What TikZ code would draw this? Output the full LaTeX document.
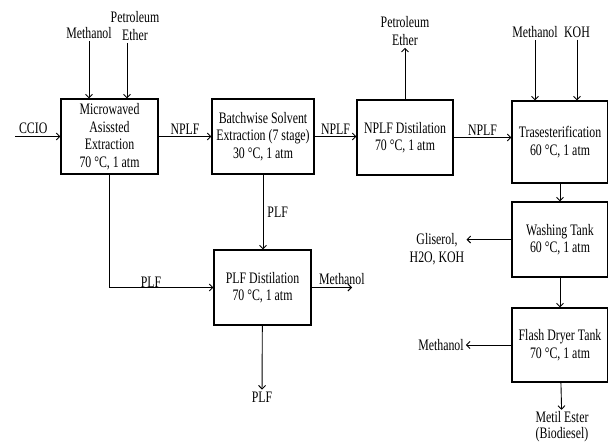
\documentclass[tikz,border=0pt]{standalone}
\usepackage{fontspec}
\setmainfont{Liberation Serif}[FakeStretch=0.74]
\usetikzlibrary{arrows.meta,positioning}
\tikzset{>={Straight Barb[length=3.5pt,width=7pt]},
  box/.style={draw,line width=1.1pt,align=center,inner sep=0pt,font=\fontsize{16}{17.5}\selectfont},
  arr/.style={->,line width=0.9pt},
  lbl/.style={font=\fontsize{16}{18}\selectfont,align=center,inner sep=2pt}}

\begin{document}
\begin{tikzpicture}[x=1pt,y=-1pt]
\useasboundingbox (0,0) rectangle (608,444);
% process units
\node[box,minimum width=97pt,minimum height=75pt] (mae) at (109.5,136.5) {Microwaved\\Asissted\\Extraction\\70 °C, 1 atm};
\node[box,minimum width=102pt,minimum height=75pt] (bse) at (263,136.5) {Batchwise Solvent\\Extraction (7 stage)\\30 °C, 1 atm};
\node[box,minimum width=96pt,minimum height=75pt] (nd) at (405,137.5) {NPLF Distilation\\70 °C, 1 atm};
\node[box,minimum width=96pt,minimum height=82pt] (tr) at (560,142) {Trasesterification\\60 °C, 1 atm};
\node[box,minimum width=96pt,minimum height=75pt] (wt) at (560,239.5) {Washing Tank\\60 °C, 1 atm};
\node[box,minimum width=96pt,minimum height=74pt] (fd) at (560,345) {Flash Dryer Tank\\70 °C, 1 atm};
\node[box,minimum width=97pt,minimum height=75pt] (pd) at (262.5,287.5) {PLF Distilation\\70 °C, 1 atm};
% feeds and products
\coordinate (ccio) at (15,136.5);\coordinate (pdout) at (352,287.5);
\node[lbl] (me1) at (89,33) {Methanol};
\node[lbl] (pe1) at (135,26) {Petroleum\\Ether};
\node[lbl] (pe2) at (405,31) {Petroleum\\Ether};
\node[lbl] (me2) at (535,32) {Methanol};
\node[lbl] (koh) at (577,32) {KOH};
\node[lbl] (gl) at (437,249.5) {Gliserol,\\H2O, KOH};
\node[lbl] (me4) at (441,345) {Methanol};
\node[lbl] (plf) at (262,397) {PLF};
\node[lbl,font=\fontsize{16}{16.5}\selectfont,inner sep=1pt] (bio) at (562,426.5) {Metil Ester\\(Biodiesel)};
% streams
\draw[arr] (ccio) -- (mae.west) node[lbl,above,pos=0.4] {CCIO};
\draw[arr] (me1.south) -- (me1.south |- mae.north);
\draw[arr] ([xshift=-8pt]pe1.south) -- ([xshift=-8pt]pe1.south |- mae.north);
\draw[arr] (mae) -- (bse) node[lbl,above,midway] {NPLF};
\draw[arr] (bse) -- (bse -| nd.west) node[lbl,above,midway] {NPLF};
\draw[arr] (nd.north) -- (pe2.south);
\draw[arr] (nd) -- (nd -| tr.west) node[lbl,above,midway] {NPLF};
\draw[arr] (me2.south) -- (me2.south |- tr.north);
\draw[arr] (koh.south) -- (koh.south |- tr.north);
\draw[arr] (tr) -- (wt);
\draw[arr] (wt) -- (fd);
\draw[arr] (fd) -- (bio);
\draw[arr] (wt.west) -- (wt.west -| gl.east);
\draw[arr] (fd) -- (me4);
\draw[arr] (mae.south) |- (pd.west) node[lbl,above,inner sep=0pt,pos=0.7] {PLF};
\draw[arr] (bse.south) -- (bse.south |- pd.north) node[lbl,right,midway,inner sep=4pt] {PLF};
\draw[arr] (pd.east) -- (pdout) node[lbl,above,pos=0.75] {Methanol};
\draw[arr] (pd) -- (plf);
\end{tikzpicture}
\end{document}
